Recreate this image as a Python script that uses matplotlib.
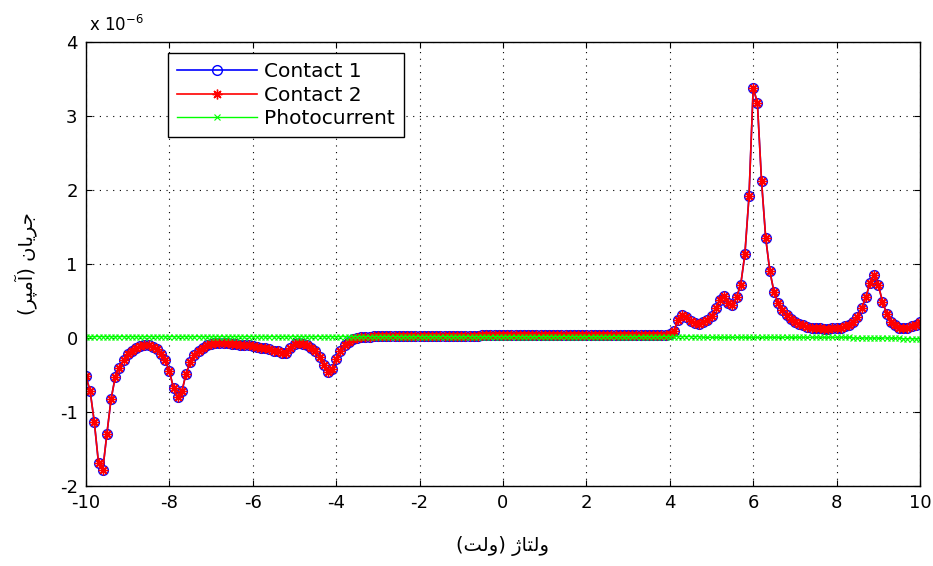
import matplotlib
matplotlib.use("Agg")
import matplotlib.pyplot as plt
import numpy as np

plt.rcParams["font.family"] = ["DejaVu Sans"]
plt.rcParams["axes.unicode_minus"] = False
plt.rcParams["mathtext.default"] = "regular"

# Voltage sweep [V], 0.1 V step
voltage = np.round(np.arange(-10.0, 10.0 + 1e-9, 0.1), 1)

# Currents in units of 1e-6 A, one row per volt
contact1 = [
    -0.52, -0.72, -1.14, -1.69, -1.79, -1.30, -0.83, -0.53, -0.40, -0.30,
    -0.22, -0.17, -0.13, -0.11, -0.10, -0.10, -0.12, -0.15, -0.21, -0.30,
    -0.45, -0.68, -0.80, -0.72, -0.48, -0.33, -0.23, -0.17, -0.13, -0.10,
    -0.08, -0.07, -0.07, -0.07, -0.07, -0.08, -0.08, -0.09, -0.09, -0.10,
    -0.11, -0.12, -0.13, -0.14, -0.15, -0.17, -0.18, -0.20, -0.20, -0.13,
    -0.08, -0.07, -0.08, -0.10, -0.13, -0.18, -0.25, -0.36, -0.46, -0.42,
    -0.28, -0.17, -0.10, -0.05, -0.02, 0.00, 0.01, 0.02, 0.02, 0.03,
    0.03, 0.03, 0.03, 0.03, 0.03, 0.03, 0.03, 0.03, 0.03, 0.03,
    0.03, 0.03, 0.03, 0.03, 0.03, 0.03, 0.03, 0.03, 0.03, 0.03,
    0.03, 0.03, 0.03, 0.03, 0.03, 0.04, 0.04, 0.04, 0.04, 0.04,
    0.04, 0.04, 0.04, 0.04, 0.04, 0.04, 0.04, 0.04, 0.04, 0.04,
    0.04, 0.04, 0.04, 0.04, 0.04, 0.04, 0.04, 0.04, 0.04, 0.04,
    0.04, 0.04, 0.04, 0.04, 0.04, 0.04, 0.04, 0.04, 0.04, 0.04,
    0.04, 0.04, 0.04, 0.04, 0.04, 0.04, 0.04, 0.04, 0.04, 0.04,
    0.05, 0.10, 0.24, 0.31, 0.28, 0.23, 0.20, 0.19, 0.21, 0.24,
    0.30, 0.40, 0.52, 0.57, 0.47, 0.44, 0.55, 0.72, 1.13, 1.92,
    3.38, 3.18, 2.12, 1.35, 0.90, 0.62, 0.47, 0.38, 0.31, 0.26,
    0.22, 0.19, 0.17, 0.15, 0.14, 0.13, 0.13, 0.12, 0.12, 0.13,
    0.13, 0.14, 0.16, 0.18, 0.22, 0.29, 0.40, 0.55, 0.74, 0.85,
    0.72, 0.49, 0.33, 0.22, 0.17, 0.14, 0.13, 0.14, 0.16, 0.18,
    0.21,
]
contact2 = list(contact1)

photocurrent = [
    0.02, 0.02, 0.02, 0.02, 0.02, 0.02, 0.02, 0.02, 0.02, 0.02,
    0.02, 0.02, 0.02, 0.02, 0.02, 0.02, 0.02, 0.02, 0.02, 0.02,
    0.02, 0.02, 0.02, 0.02, 0.02, 0.02, 0.02, 0.02, 0.02, 0.02,
    0.02, 0.02, 0.02, 0.02, 0.02, 0.02, 0.02, 0.02, 0.02, 0.02,
    0.02, 0.02, 0.02, 0.02, 0.02, 0.02, 0.02, 0.02, 0.02, 0.02,
    0.02, 0.02, 0.02, 0.02, 0.02, 0.02, 0.02, 0.02, 0.02, 0.02,
    0.02, 0.02, 0.02, 0.02, 0.02, 0.02, 0.02, 0.02, 0.02, 0.02,
    0.02, 0.02, 0.02, 0.02, 0.02, 0.02, 0.02, 0.02, 0.02, 0.02,
    0.02, 0.02, 0.02, 0.02, 0.02, 0.02, 0.02, 0.02, 0.02, 0.02,
    0.02, 0.02, 0.02, 0.02, 0.02, 0.02, 0.02, 0.02, 0.02, 0.02,
    0.02, 0.02, 0.02, 0.02, 0.02, 0.02, 0.02, 0.02, 0.02, 0.02,
    0.02, 0.02, 0.02, 0.02, 0.02, 0.02, 0.02, 0.02, 0.02, 0.02,
    0.02, 0.02, 0.02, 0.02, 0.02, 0.02, 0.02, 0.02, 0.02, 0.02,
    0.02, 0.02, 0.02, 0.02, 0.02, 0.02, 0.02, 0.02, 0.02, 0.02,
    0.02, 0.02, 0.02, 0.02, 0.02, 0.02, 0.02, 0.02, 0.01, 0.01,
    0.01, 0.01, 0.01, 0.01, 0.01, 0.01, 0.01, 0.01, 0.01, 0.01,
    0.01, 0.01, 0.01, 0.01, 0.01, 0.01, 0.01, 0.01, 0.01, 0.01,
    0.01, 0.01, 0.01, 0.01, 0.01, 0.01, 0.01, 0.01, 0.01, 0.01,
    0.01, 0.01, 0.01, 0.01, 0.00, 0.00, 0.00, 0.00, 0.00, 0.00,
    0.00, 0.00, 0.00, 0.00, 0.00, 0.00, -0.01, -0.01, -0.01, -0.01,
    -0.01,
]

series_labels = ["Contact 1", "Contact 2", "Photocurrent"]

# Persian axis labels, written as shaped glyphs in display order
xlabel_text = "(\uFE96\uFEDF\uFEED) \uFB8A\uFE8E\uFE98\uFEDF\uFEED"
ylabel_text = "(\uFEAE\uFB59\uFEE3\uFE81) \uFEE5\uFE8E\uFBFE\uFEAE\uFE9F"

fig = plt.figure(figsize=(9.33, 5.66), dpi=100)
ax = fig.add_axes([86 / 933, 80 / 566, 834 / 933, 444 / 566])

ax.plot(voltage, contact1, "-", color=(0, 0, 1), lw=1.2, marker="o", ms=7,
        mfc="none", mec=(0, 0, 1), mew=1.0, label=series_labels[0])
ax.plot(voltage, contact2, "-", color=(1, 0, 0), lw=1.2, marker=(8, 2, 0), ms=7,
        mec=(1, 0, 0), mew=1.0, label=series_labels[1])
ax.plot(voltage, photocurrent, "-", color=(0, 1, 0), lw=1.0, marker="x", ms=4,
        mec=(0, 1, 0), mew=0.8, label=series_labels[2])

ax.set_xlim(-10, 10)
ax.set_ylim(-2, 4)
ax.set_xticks(np.arange(-10, 11, 2))
ax.set_yticks(np.arange(-2, 5, 1))
ax.tick_params(direction="in", length=4, width=0.8, top=True, right=True,
               labelsize=13)
ax.tick_params(axis="x", pad=6)
ax.tick_params(axis="y", pad=6)
for sp in ax.spines.values():
    sp.set_linewidth(1.0)
ax.grid(True, color="black", linestyle=(0, (1, 5)), linewidth=0.8)

ax.text(0.003, 1.024, "x 10$^{-6}$", transform=ax.transAxes, ha="left",
        va="baseline", fontsize=12)

ax.set_xlabel(xlabel_text, fontsize=14, labelpad=17)
ax.set_ylabel(ylabel_text, fontsize=14, labelpad=16)

leg = ax.legend(loc="upper left", bbox_to_anchor=(0.098, 0.975), borderaxespad=0,
                fontsize=14.5, handlelength=4.0, handletextpad=0.35,
                labelspacing=0.22, borderpad=0.45, fancybox=False, framealpha=1,
                edgecolor="black")
leg.get_frame().set_linewidth(1.0)

fig.savefig("out.png", dpi=100)
